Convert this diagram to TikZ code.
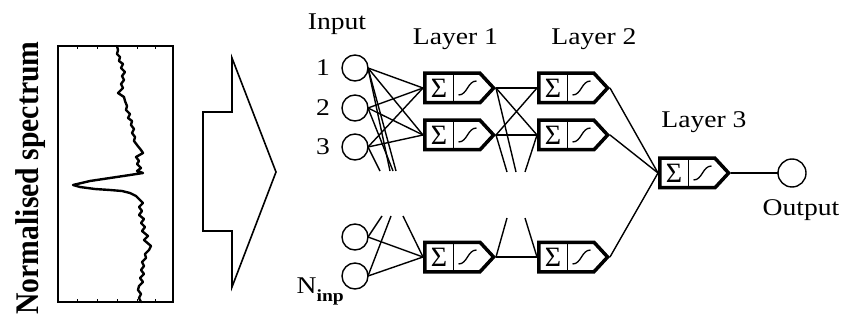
\documentclass[tikz,border=0pt]{standalone}
\usepackage{fontspec}
\setmainfont{Liberation Serif}[FakeStretch=1.15]
\newfontfamily\specfont{Liberation Serif}[FakeStretch=0.9]
\newfontfamily\sigfont{Liberation Serif}
\usetikzlibrary{calc}
\tikzset{
  inp/.style={circle, draw, minimum size=26pt, inner sep=0pt, outer sep=0pt, line width=1.4pt},
  outc/.style={circle, draw, minimum size=28pt, inner sep=0pt, outer sep=0pt, line width=1.4pt},
  nrn/.style={rectangle, minimum width=73pt, minimum height=33pt, inner sep=0pt, outer sep=0pt},
  nrnedge/.style={line width=3.5pt, line join=miter},
  nrndiv/.style={line width=1.6pt},
  sigtxt/.style={inner sep=0pt, font=\sigfont\fontsize{28pt}{30pt}\selectfont},
  sigline/.style={line width=1.3pt},
  conn/.style={line width=1.4pt},
  lbl/.style={inner sep=0pt, font=\fontsize{24pt}{28pt}\selectfont},
  speclbl/.style={inner sep=0pt, font=\specfont\bfseries\fontsize{33pt}{36pt}\selectfont},
  trace/.style={line width=2.4pt, line join=round, line cap=round},
  framebox/.style={line width=1.4pt},
  bigarrow/.style={line width=1.6pt, line join=miter},
}
\newcommand\neuronat[3]{%
  \node[nrn] (#1) at (#2,#3) {};
  \begin{scope}[shift={(#2,#3)}]
    \draw[nrnedge] (-34.75,-14.75) -- (20.5,-14.75) -- (34.1,0) -- (20.5,14.75) -- (-34.75,14.75) -- cycle;
    \draw[nrndiv] (-6,-14.75) -- (-6,14.75);
    \node[sigtxt] at (-20.5,0.5) {Σ};
    \draw[sigline] (-1,7) .. controls (8,7) and (8,-7) .. (17,-7);
  \end{scope}}
\begin{document}
\begin{tikzpicture}[x=1pt,y=-1pt]
\useasboundingbox (0,0) rectangle (842,320);
% spectrum panel
\node[speclbl, rotate=90, anchor=base] (speclabel) at (38,178) {Normalised spectrum};
\draw[framebox] (58,46) rectangle (173,302);
\foreach \tx in {77,97,117,137,155}{
  \draw[line width=1pt] (\tx,46) -- (\tx,49);
  \draw[line width=1pt] (\tx,302) -- (\tx,299);
}
\draw[trace] (117,46) -- (118,50) -- (117,54) -- (120,57) -- (119,61) -- (123,64) -- (121,68) -- (125,72) -- (122,76) -- (124,80) -- (121,84) -- (123,88) -- (118,93) -- (124,97) -- (125,101) -- (127,106) -- (126,110) -- (130,114) -- (128,118) -- (132,121) -- (131,125) -- (134,129) -- (132,133) -- (135,137) -- (134,141) -- (137,145) -- (141,150) -- (143,153) -- (136,157) -- (139,161) -- (137,164) -- (141,168) -- (137,171) -- (143,173) -- (130,175) -- (110,178) -- (90,181) -- (73,185) -- (80,187) -- (95,189) -- (110,190) -- (122,191) -- (130,193) -- (136,196) -- (140,200) -- (143,203) -- (139,207) -- (142,211) -- (139,215) -- (144,219) -- (141,223) -- (145,227) -- (142,231) -- (148,236) -- (144,240) -- (151,246) -- (149,250) -- (145,254) -- (146,258) -- (142,262) -- (144,266) -- (141,270) -- (144,274) -- (140,278) -- (143,282) -- (139,286) -- (138,290) -- (141,294) -- (139,298) -- (141,302);
% big arrow
\draw[bigarrow] (203,112) -- (232,112) -- (232,58) -- (276,172) -- (232,287) -- (232,231) -- (203,231) -- cycle;
% inputs
\node[inp] (i1) at (355,68) {};
\node[inp] (i2) at (355,108) {};
\node[inp] (i3) at (355,147) {};
\node[inp] (i4) at (355,237) {};
\node[inp] (i5) at (355,276) {};
\node[lbl, anchor=base] (tin) at (337,30) {Input};
\node[lbl] (t1) at (323,68) {1};
\node[lbl] (t2) at (323,108) {2};
\node[lbl] (t3) at (323,147) {3};
\node[lbl, anchor=base east] (tn) at (344,293) {N\raisebox{-8pt}{\fontsize{17pt}{18pt}\selectfont\bfseries inp}};
% neurons
\neuronat{a1}{459.5}{88}
\neuronat{a2}{459.5}{135}
\neuronat{a3}{459.5}{257}
\neuronat{b1}{573.5}{88}
\neuronat{b2}{573.5}{135}
\neuronat{b3}{573.5}{257}
\neuronat{c1}{694.5}{173}
\node[outc] (out) at (792,173) {};
\node[lbl, anchor=base] (tl1) at (455.5,45) {Layer 1};
\node[lbl, anchor=base] (tl2) at (594,45) {Layer 2};
\node[lbl, anchor=base] (tl3) at (704,128) {Layer 3};
\node[lbl, anchor=base] (tout) at (801,215) {Output};
% stub end points (gap)
\coordinate (s1) at (396,171);
\coordinate (s2) at (390,171);
\coordinate (s3) at (393,171);
\coordinate (s4) at (380,171);
\coordinate (s5) at (382,216);
\coordinate (s6) at (391,216);
\coordinate (s7) at (403,216);
\coordinate (s8) at (516,172);
\coordinate (s9) at (507,172);
\coordinate (s10) at (525,172);
\coordinate (s11) at (507,218);
\coordinate (s12) at (525,218);
% input -> layer 1
\foreach \i in {i1,i2,i3}{
  \draw[conn] (\i.east) -- (a1.west);
  \draw[conn] (\i.east) -- (a2.west);
}
\draw[conn] (i1.east) -- (s1);
\draw[conn] (i1.east) -- (s2);
\draw[conn] (i2.east) -- (s3);
\draw[conn] (i3.east) -- (s4);
\draw[conn] (s5) -- (i4.east);
\draw[conn] (s6) -- (i5.east);
\draw[conn] (s7) -- (a3.west);
\draw[conn] (i4.east) -- (a3.west);
\draw[conn] (i5.east) -- (a3.west);
% layer 1 -> layer 2
\draw[conn] (a1.east) -- (b1.west);
\draw[conn] (a1.east) -- (b2.west);
\draw[conn] (a2.east) -- (b1.west);
\draw[conn] (a2.east) -- (b2.west);
\draw[conn] (a3.east) -- (b3.west);
\draw[conn] (a1.east) -- (s8);
\draw[conn] (a2.east) -- (s9);
\draw[conn] (b2.west) -- (s10);
\draw[conn] (a3.east) -- (s11);
\draw[conn] (b3.west) -- (s12);
% layer 2 -> layer 3
\draw[conn] (b1.east) -- (c1.west);
\draw[conn] (b2.east) -- (c1.west);
\draw[conn] (b3.east) -- (c1.west);
\draw[conn] (c1.east) -- (out.west);
\end{tikzpicture}
\end{document}
